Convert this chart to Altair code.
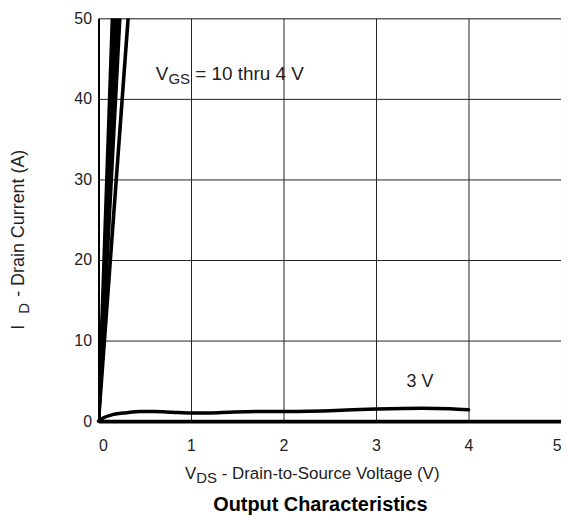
import altair as alt
import pandas as pd

# ---- data ----
steep_series = ["10 V", "8 V", "6 V", "5 V", "4 V"]
steep_vds_at_50A = [0.15, 0.175, 0.2, 0.23, 0.32]   # V_DS where each curve reaches 50 A

vds_3v = [0, 0.05, 0.15, 0.3, 0.45, 0.6, 0.8, 1.0, 1.3, 1.7, 2.0, 2.5, 3.0, 3.5, 3.8, 4.0]
id_3v = [0, 0.4, 0.8, 1.05, 1.2, 1.2, 1.1, 1.0, 1.05, 1.2, 1.2, 1.3, 1.5, 1.6, 1.55, 1.4]

x_ticks = [0, 1, 2, 3, 4, 5]
y_ticks = [0, 10, 20, 30, 40, 50]

FONT = "Liberation Sans"
W, H = 465, 405

rows = []
for name, v in zip(steep_series, steep_vds_at_50A):
    rows.append({"series": name, "vds": 0.0, "id": 0.0, "o": 0})
    rows.append({"series": name, "vds": v, "id": 50.0, "o": 1})
steep_df = pd.DataFrame(rows)
df3 = pd.DataFrame({"series": "3 V", "vds": vds_3v, "id": id_3v, "o": range(len(vds_3v))})

xs = alt.Scale(domain=[0, 5], nice=False)
ys = alt.Scale(domain=[0, 50], nice=False)

xaxis = alt.Axis(values=x_ticks, format="d", title=None, grid=True, gridColor="#222", gridWidth=1,
                 ticks=False, labelFontSize=16, labelFont=FONT, labelColor="#222",
                 labelPadding=17, domainColor="black", domainWidth=4)
yaxis = alt.Axis(values=y_ticks, format="d", title=None, grid=True, gridColor="#222", gridWidth=1,
                 ticks=False, labelFontSize=16, labelFont=FONT, labelColor="#222",
                 labelPadding=7, domainColor="black", domainWidth=2)

steep = alt.Chart(steep_df).mark_line(color="black", strokeWidth=3.6, clip=True).encode(
    x=alt.X("vds:Q", scale=xs, axis=xaxis),
    y=alt.Y("id:Q", scale=ys, axis=yaxis),
    detail="series:N",
    order="o:Q",
)
curve3 = alt.Chart(df3).mark_line(color="black", strokeWidth=3.5, interpolate="monotone",
                                  strokeCap="round").encode(
    x=alt.X("vds:Q", scale=xs), y=alt.Y("id:Q", scale=ys), order="o:Q")

# in-plot annotations (data coordinates)
ann_x, ann_y = 0.62, 42.3
ann = pd.DataFrame({"vds": [ann_x], "id": [ann_y]})
def piece(text, size, dx, dy, df=ann):
    return alt.Chart(df).mark_text(text=text, font=FONT, fontSize=size, align="left",
                                   baseline="alphabetic", dx=dx, dy=dy, color="#222").encode(
        x=alt.X("vds:Q", scale=xs), y=alt.Y("id:Q", scale=ys))

vgs_v = piece("V", 19, 0, 0)
vgs_sub = piece("GS", 15, 12.7, 4)
vgs_rest = piece("= 10 thru 4 V", 19, 12.7 + 1.445 * 15 + 5.3, 0)
lab3 = piece("3 V", 18, 0, 0, pd.DataFrame({"vds": [3.33], "id": [4.2]}))

# axis titles and chart title (pixel placement, composite text for subscripts)
def ptext(text, x, y, size, angle=0, weight="normal", align="left"):
    return alt.Chart(pd.DataFrame({"a": [0]})).mark_text(
        text=text, font=FONT, fontSize=size, align=align, baseline="alphabetic",
        angle=angle, fontWeight=weight, color="#222" if weight == "normal" else "black").encode(
        x=alt.value(x), y=alt.value(y))

xt0 = 87
xt_v = ptext("V", xt0, 463, 17)
xt_sub = ptext("DS", xt0 + 0.667 * 17, 467, 15)
xt_rest = ptext("- Drain-to-Source Voltage (V)", xt0 + 0.667 * 17 + 1.389 * 15 + 4.7, 463, 17)

yt_i = ptext("I", -75, 313, 18, angle=270)
yt_sub = ptext("D", -70, 297, 15, angle=270)
yt_rest = ptext("- Drain Current (A)", -75, 280, 18, angle=270)

title = ptext("Output Characteristics", 223, 495, 20, weight="bold", align="center")

chart = alt.layer(
    steep, curve3, vgs_v, vgs_sub, vgs_rest, lab3,
    xt_v, xt_sub, xt_rest, yt_i, yt_sub, yt_rest, title
).properties(
    width=W, height=H,
    autosize=alt.AutoSizeParams(type="none"),
    padding={"left": 91, "top": 9, "right": 0, "bottom": 94},
).configure_view(stroke="black", strokeWidth=2).configure(background="white")

chart.save("out.html", embed_options={"renderer": "svg", "actions": False})
